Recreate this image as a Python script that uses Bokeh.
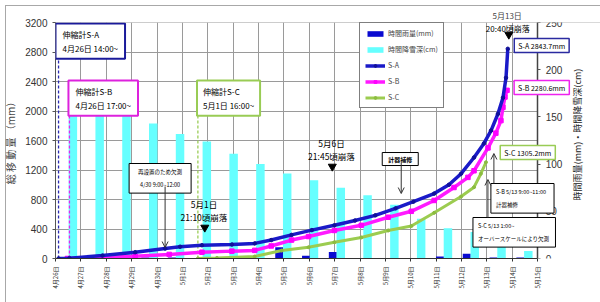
import math
from bokeh.plotting import figure
from bokeh.models import (LinearAxis, Range1d, FixedTicker, Label, Arrow, OpenHead,
                          Legend, LegendItem, BoxAnnotation, Title)
from bokeh.embed import file_html
from bokeh.resources import INLINE

# ---------------- data ----------------
dates = ["4月26日", "4月27日", "4月28日", "4月29日", "4月30日", "5月1日", "5月2日",
         "5月3日", "5月4日", "5月5日", "5月6日", "5月7日", "5月8日", "5月9日",
         "5月10日", "5月11日", "5月12日", "5月13日", "5月14日", "5月15日"]

# hourly snowfall depth (cm) and hourly rainfall (mm), 18 bar groups
snow_cm = [159, 157, 153, 143, 132, 124, 111, 100, 90, 83, 75, 67, 57, 42, 32, 28, 19, 8]
rain_mm = [0, 0, 0, 1, 1, 0, 0, 2, 12, 3, 7, 0, 0, 0, 2, 5, 1, 1]

# extensometer total displacement (days since 4/26 0:00, mm)
sa_day = [0.12, 0.55, 1.85, 3.14, 4.32, 4.91, 5.77, 6.95, 7.85, 8.5, 9.3, 10.1, 10.99, 11.8,
          12.6, 13.4, 14.1, 14.92, 15.5, 15.98, 16.49, 16.88, 17.16, 17.43, 17.63, 17.75, 17.82]
sa_mm = [0, 5, 40, 85, 135, 160, 180, 190, 205, 250, 320, 385, 450, 515,
         585, 680, 770, 880, 1000, 1150, 1370, 1560, 1735, 1960, 2180, 2450, 2843.7]

sb_day = [0.47, 1.85, 3.14, 4.48, 5.77, 6.95, 7.85, 8.5, 9.3, 9.97, 10.99, 12.05, 13.11,
          14.02, 14.92, 15.70, 16.25, 16.49, 17.04, 17.35, 17.55, 17.63, 17.71, 17.79]
sb_mm = [0, 15, 30, 55, 85, 100, 110, 170, 250, 298, 380, 450, 560,
         640, 787, 963, 1100, 1190, 1500, 1700, 1870, 2050, 2190, 2280.6]

sc_day = [5.61, 6.36, 7.85, 8.91, 9.97, 10.99, 12.05, 13.11, 14.02, 14.92, 15.98,
          16.49, 16.76, 16.96]
sc_mm = [0, 8, 27, 108, 153, 220, 285, 380, 440, 620, 840, 967, 1150, 1305.2]

start_day = [0.12, 0.55, 5.61]          # S-A, S-B, S-C start of measurement
collapse_day = [5 + 21 / 24 + 10 / 1440, 10 + 21 / 24 + 45 / 1440, 17 + 20 / 24 + 40 / 1440]

# ---------------- layout helpers ----------------
W, H = 600, 302
FL, FR, FT, FB = 53, 537, 22, 258       # plot-area edges in page pixels
XPX = (FR - FL) / 19.0
YPX = (FB - FT) / 3200.0
XEND = (W - FL) / XPX                   # frame runs to the page edge


def dx(px):
    return (px - FL) / XPX


def dy(py):
    return (FB - py) / YPX


JP = "Noto Sans CJK JP"
p = figure(width=W, height=H, output_backend="svg", toolbar_location=None,
           x_range=Range1d(0, XEND), y_range=Range1d(0, 3200.5),
           min_border_left=FL, min_border_right=0,
           min_border_top=FT, min_border_bottom=H - FB)
p.extra_y_ranges = {"r": Range1d(0, 250.04)}
p.outline_line_color = None
p.background_fill_color = "white"
p.border_fill_alpha = 0
p.styles = {
    "background": ("linear-gradient(#a8a8a8,#a8a8a8) 5px 5px / 595px 1px no-repeat, "
                   "linear-gradient(#a8a8a8,#a8a8a8) 5px 5px / 1px 297px no-repeat, white"),
}

# axes
p.xaxis.ticker = FixedTicker(ticks=list(range(len(dates))))
p.xaxis.major_label_overrides = {i: d for i, d in enumerate(dates)}
p.xaxis.major_label_orientation = math.pi / 2
p.xaxis.major_label_text_font = JP
p.xaxis.major_label_text_font_size = "6px"
p.xaxis.major_label_text_color = "#222222"
p.xaxis.axis_line_color = "#333333"
p.xaxis.major_tick_line_color = "#333333"
p.xaxis.major_tick_out = 3
p.xaxis.major_tick_in = 0
p.xaxis.minor_tick_line_color = None
p.xaxis.bounds = (0, 19)

p.yaxis.ticker = FixedTicker(ticks=list(range(0, 3201, 400)))
p.yaxis.bounds = (0, 3200)
p.yaxis.axis_label = "総 移 動 量 （mm）"
p.yaxis.axis_label_text_font = JP
p.yaxis.axis_label_text_font_size = "10px"
p.yaxis.axis_label_text_font_style = "normal"
p.yaxis.axis_label_standoff = 4
p.yaxis.major_label_text_font = "Liberation Sans"
p.yaxis.major_label_text_font_size = "10px"
p.yaxis.major_label_text_color = "#333333"
p.yaxis.axis_line_color = "#555555"
p.yaxis.major_tick_line_color = "#555555"
p.yaxis.major_tick_out = 3
p.yaxis.major_tick_in = 0
p.yaxis.minor_tick_line_color = None

ra = LinearAxis(y_range_name="r", ticker=FixedTicker(ticks=list(range(0, 251, 50))),
                fixed_location=19, bounds=(0, 250))
ra.major_label_text_font = "Liberation Sans"
ra.major_label_text_font_size = "10px"
ra.major_label_text_color = "#333333"
ra.axis_line_color = "#444444"
ra.axis_line_width = 1.5
ra.major_tick_line_color = "#555555"
ra.major_tick_out = 3
ra.major_tick_in = 0
ra.minor_tick_line_color = None
p.add_layout(ra, "right")

p.xgrid.grid_line_color = "#9a9a9a"
p.ygrid.grid_line_color = "#9a9a9a"

# white area right of the plot area (hides grid beyond the right axis)
p.add_layout(BoxAnnotation(left=19, fill_color="white", fill_alpha=1, line_color=None,
                           level="underlay"))

# right axis title (reads bottom to top)
p.add_layout(Label(x=dx(577), y=dy(134), text="時間雨量(mm)・時間降雪深(cm)",
                   angle=math.pi / 2, text_align="center", text_baseline="middle",
                   text_font=JP, text_font_size="9px", text_color="#222222"))

# ---------------- bars ----------------
n = len(snow_cm)
group = [(i + 0.5) * 19.0 / n for i in range(n)]
off = 4 / XPX
rain_x = [g - off for g in group]
snow_x = [g + off for g in group]
rain_r = p.vbar(x=rain_x, top=rain_mm, width=8 / XPX, y_range_name="r",
                fill_color="#0a0ad0", line_color=None)
snow_r = p.vbar(x=snow_x, top=snow_cm, width=8.5 / XPX, y_range_name="r",
                fill_color="#66ffff", line_color=None)

# ---------------- start dashed lines ----------------
box_bottom = [dy(54), dy(109), dy(108)]
p.segment(x0=start_day, y0=[0, 0, 0], x1=start_day, y1=box_bottom,
          line_color=["#2a2ab0", "#ee22ee", "#99cc55"], line_dash="3 2", line_width=1.3)

# ---------------- lines ----------------
sc_l = p.line(sc_day, sc_mm, line_color="#9ccc50", line_width=3)
sc_s = p.scatter(sc_day, sc_mm, marker="circle", size=3, color="#8cbc40")
sb_l = p.line(sb_day, sb_mm, line_color="#ff1aff", line_width=3.5)
sb_s = p.scatter(sb_day, sb_mm, marker="square", size=4.5, color="#ff00ff")
sa_l = p.line(sa_day, sa_mm, line_color="#1a1ac8", line_width=3.5)
sa_s = p.scatter(sa_day, sa_mm, marker="circle", size=3.5, color="#10109a")

# collapse markers
p.scatter(collapse_day, [dy(227), dy(166), dy(34)], marker="inverted_triangle",
          size=8, color="black")

legend = Legend(items=[
    LegendItem(label="時間雨量(mm)", renderers=[rain_r]),
    LegendItem(label="時間降雪深(cm)", renderers=[snow_r]),
    LegendItem(label="S-A", renderers=[sa_l, sa_s]),
    LegendItem(label="S-B", renderers=[sb_l, sb_s]),
    LegendItem(label="S-C", renderers=[sc_l, sc_s]),
], location=(357 - FL, FB - 108))
legend.label_text_font = JP
legend.label_text_font_size = "7px"
legend.glyph_width = 20
legend.glyph_height = 7
legend.label_height = 10
legend.label_standoff = 3
legend.spacing = 6
legend.padding = 5
legend.margin = 0
legend.border_line_color = "black"
legend.border_line_width = 1
legend.background_fill_alpha = 1
p.add_layout(legend)


def box(text, px, py, color="black", lw=1, size="8px", align="left",
        pad=(6, 6, 4, 4), bold=False, border=True, lh=1.3):
    lab = Label(x=dx(px), y=dy(py), text=text, text_font=JP, text_font_size=size,
                text_align=align, text_baseline="top", text_color="black",
                text_line_height=lh,
                text_font_style="bold" if bold else "normal")
    if border:
        lab.border_line_color = color
        lab.border_line_width = lw
        lab.background_fill_color = "white"
        lab.background_fill_alpha = 1
        lab.padding = dict(left=pad[0], right=pad[1], top=pad[2], bottom=pad[3])
    p.add_layout(lab)
    return lab


box("伸縮計S-A\n4月26日 14:00~", 53, 23, color="#1a1a9a", lw=2, size="8px", pad=(7, 7, 5, 5))
box("伸縮計S-B\n4月26日 17:00~", 66, 80, color="#dd22dd", lw=2, size="8px", pad=(7, 7, 5, 5))
box("伸縮計S-C\n5月1日 16:00~", 195, 80, color="#99cc55", lw=2, size="8px", pad=(6, 6, 5, 5))

p.add_layout(Title(text="5月13日", align="left", offset=490 - FL, standoff=3,
                   text_font=JP, text_font_size="8px", text_font_style="normal"), "above")
box("20:40頃崩落", 507, 22, size="8px", align="center", border=False, lh=1.0)
box("5月1日\n21:10頃崩落", 202, 197, size="8.5px", align="center", border=False, lh=1.15)
box("5月6日\n21:45頃崩落", 330, 136, size="8.5px", align="center", border=False, lh=1.15)

box("S-A 2843.7mm", 541, 38, color="#2a2aa0", lw=1.5, size="7px", align="center", pad=(4, 4, 2, 2))
box("S-B 2280.6mm", 541, 80, color="#ee22ee", lw=1.5, size="7px", align="center", pad=(4, 4, 2, 2))
box("S-C 1305.2mm", 527, 145, color="#99cc55", lw=1.5, size="7px", align="center", pad=(4, 4, 2, 2))

box("再設置のため欠測\n4/30 9:00~12:00", 158, 163, size="5.5px", align="center", pad=(9, 9, 4, 4), lh=1.7)
box("計器補修", 399, 152, size="6px", align="center", pad=(6, 6, 2, 2), bold=True)
box("S-B 5/13 9:00~11:00\n計器補修", 490, 183, size="5.5px", pad=(5, 8, 4, 4), lh=1.7)
box("S-C 5/13 1:00~\nオーバースケールにより欠測", 472, 217, size="5.5px", pad=(5, 6, 4, 4), lh=1.7)

for (x0, y0, x1, y1) in [(163, 186, 163, 247), (400, 162, 400, 193),
                         (493, 183, 493, 153), (487, 217, 487, 179)]:
    p.add_layout(Arrow(x_start=dx(x0), y_start=dy(y0), x_end=dx(x1), y_end=dy(y1),
                       end=OpenHead(size=6, line_width=1, line_color="#333333"),
                       line_width=1, line_color="#333333"))

open("out.html", "w").write(file_html(p, INLINE))
